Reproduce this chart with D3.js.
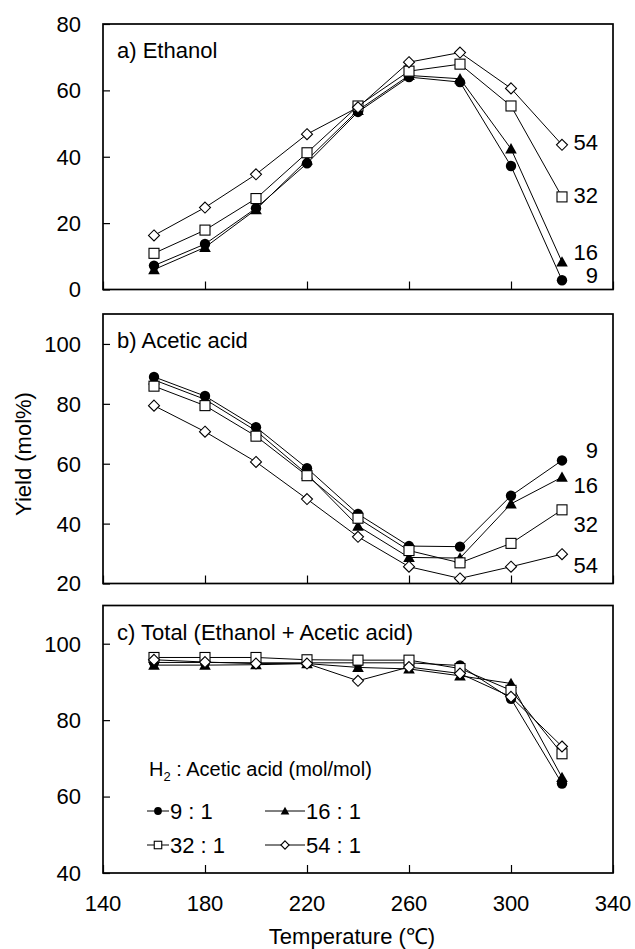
<!DOCTYPE html>
<html>
<head>
<meta charset="utf-8">
<script src="https://cdn.jsdelivr.net/npm/d3@7"></script>
<style>
  body { margin: 0; background: #fff; }
  svg { display: block; font-family: "Liberation Sans", Arial, sans-serif; }
</style>
</head>
<body>
<svg width="635" height="949"></svg>
<script>
'use strict';

// temperatures (C)
var temps = [160, 180, 200, 220, 240, 260, 280, 300, 320];

// ratio labels (H2 : acetic acid)
var ratios = ['9', '16', '32', '54'];
var shapes = ['circle', 'triangle', 'square', 'diamond'];

// a) ethanol yield (mol%)
var eth9  = [7.2, 13.7, 24.5, 38.0, 53.5, 64.0, 62.5, 37.2, 2.8];
var eth16 = [6.0, 12.7, 24.1, 39.0, 54.0, 64.5, 63.5, 42.4, 8.3];
var eth32 = [10.9, 17.9, 27.4, 41.2, 55.3, 65.8, 67.9, 55.3, 27.9];
var eth54 = [16.3, 24.7, 34.7, 46.8, 54.9, 68.5, 71.4, 60.6, 43.6];

// b) acetic acid yield (mol%)
var ace9  = [89.0, 82.6, 72.2, 58.5, 43.2, 32.5, 32.3, 49.3, 61.1];
var ace16 = [88.0, 81.5, 71.0, 56.5, 39.2, 28.7, 28.5, 46.6, 55.5];
var ace32 = [85.9, 79.4, 69.2, 56.0, 41.8, 31.0, 26.9, 33.4, 44.6];
var ace54 = [79.4, 70.7, 60.6, 48.2, 35.6, 25.6, 21.7, 25.6, 29.8];

// c) total (mol%)
var tot9  = [95.1, 95.1, 95.0, 95.0, 95.0, 95.0, 94.3, 85.6, 63.4];
var tot16 = [94.4, 94.4, 94.5, 94.8, 93.8, 93.4, 91.6, 89.6, 65.0];
var tot32 = [96.4, 96.4, 96.4, 95.8, 95.7, 95.7, 93.5, 87.8, 71.2];
var tot54 = [95.8, 95.2, 94.8, 94.8, 90.3, 93.9, 92.2, 86.1, 73.1];

// tick values
var xTicks = [140, 180, 220, 260, 300, 340];
var yTicksA = [0, 20, 40, 60, 80];
var yTicksB = [20, 40, 60, 80, 100];
var yTicksC = [40, 60, 80, 100];

// end labels, value = where the text baseline sits (data units)
var endLabelsA = [2, 8.8, 26.0, 42.0];    // 9, 16, 32, 54
var endLabelsB = [62.0, 50.3, 37.3, 23.5];

var svg = d3.select('svg');
var left = 103, right = 613;

var x = d3.scaleLinear().domain([140, 340]).range([left, right]);

var panels = [
  {title: 'a) Ethanol', top: 24, bottom: 289.5, dom: [0, 80], ticks: yTicksA,
   series: [eth9, eth16, eth32, eth54], labels: endLabelsA},
  {title: 'b) Acetic acid', top: 314, bottom: 583.5, dom: [20, 110], ticks: yTicksB,
   series: [ace9, ace16, ace32, ace54], labels: endLabelsB},
  {title: 'c) Total (Ethanol + Acetic acid)', top: 605.5, bottom: 873, dom: [40, 110], ticks: yTicksC,
   series: [tot9, tot16, tot32, tot54], labels: null}
];

function marker(g, shape, cx, cy, s) {
  //s = scale of marker
  if (shape === 'circle') {
    g.append('circle').attr('cx', cx).attr('cy', cy).attr('r', 5.2 * s).attr('fill', '#000');
  } else if (shape === 'triangle') {
    var h = 5.8 * s;
    g.append('path')
      .attr('d', 'M' + cx + ',' + (cy - h) + 'L' + (cx + h) + ',' + (cy + h * 0.8) + 'L' + (cx - h) + ',' + (cy + h * 0.8) + 'Z')
      .attr('fill', '#000');
  } else if (shape === 'square') {
    var a = 5 * s;
    g.append('rect').attr('x', cx - a).attr('y', cy - a).attr('width', 2 * a).attr('height', 2 * a)
      .attr('fill', '#fff').attr('stroke', '#000').attr('stroke-width', 1.1);
  } else {
    var d = 5.5 * s;
    g.append('path')
      .attr('d', 'M' + cx + ',' + (cy - d) + 'L' + (cx + d) + ',' + cy + 'L' + cx + ',' + (cy + d) + 'L' + (cx - d) + ',' + cy + 'Z')
      .attr('fill', '#fff').attr('stroke', '#000').attr('stroke-width', 1.1);
  }
}

panels.forEach(function(p, pi) {
  var y = d3.scaleLinear().domain(p.dom).range([p.bottom, p.top]);
  var g = svg.append('g');

  // y axis: inward ticks
  var yAxis = d3.axisRight(y).tickValues(p.ticks).tickSize(7).tickFormat('');
  g.append('g').attr('transform', 'translate(' + left + ',0)').call(yAxis)
    .call(function(s) { s.select('.domain').remove(); s.selectAll('line').attr('stroke-width', 1.2); });

  g.selectAll('.ylab').data(p.ticks).enter().append('text')
    .attr('x', 81).attr('y', function(d) { return y(d); }).attr('dy', '0.36em')
    .attr('text-anchor', 'end').attr('font-size', 22).text(function(d) { return d; });

  // x axis: inward ticks
  var xAxis = d3.axisTop(x).tickValues(xTicks).tickSize(8).tickFormat('');
  g.append('g').attr('transform', 'translate(0,' + p.bottom + ')').call(xAxis)
    .call(function(s) { s.select('.domain').remove(); s.selectAll('line').attr('stroke-width', 1.2); });

  if (pi === 2) {
    g.selectAll('.xlab').data(xTicks).enter().append('text')
      .attr('x', function(d) { return x(d); }).attr('y', 911)
      .attr('text-anchor', 'middle').attr('font-size', 22).text(function(d) { return d; });
  }

  // frame
  g.append('rect').attr('x', left).attr('y', p.top).attr('width', right - left).attr('height', p.bottom - p.top)
    .attr('fill', 'none').attr('stroke', '#000').attr('stroke-width', 1.7);

  g.append('text').attr('x', 117).attr('y', p.top + 34).attr('font-size', 22).text(p.title);

  var line = d3.line().x(function(d, i) { return x(temps[i]); }).y(function(d) { return y(d); });

  p.series.forEach(function(vals, si) {
    g.append('path').datum(vals).attr('d', line)
      .attr('fill', 'none').attr('stroke', '#000').attr('stroke-width', 1);
    var mg = g.append('g');
    vals.forEach(function(v, i) { marker(mg, shapes[si], x(temps[i]), y(v), 1); });
  });

  if (p.labels) {
    g.selectAll('.elab').data(p.labels).enter().append('text')
      .attr('x', 598).attr('y', function(d) { return y(d); })
      .attr('text-anchor', 'end').attr('font-size', 22)
      .text(function(d, i) { return ratios[i]; });
  }
});

// legend in panel c
var leg = svg.append('g');
var head = leg.append('text').attr('x', 149).attr('y', 776).attr('font-size', 20);
head.append('tspan').text('H');
head.append('tspan').attr('font-size', 13).attr('dy', 5).text('2');
head.append('tspan').attr('dy', -5).text(' : Acetic acid (mol/mol)');

var legPos = [[147, 811], [265, 811], [147, 845], [265, 845]];
ratios.forEach(function(r, i) {
  var lx = legPos[i][0], ly = legPos[i][1];
  var len = i % 2 === 0 ? 22 : 40;
  leg.append('line').attr('x1', lx).attr('x2', lx + len).attr('y1', ly).attr('y2', ly)
    .attr('stroke', '#000').attr('stroke-width', 1);
  marker(leg, shapes[i], lx + len / 2, ly, 0.75);
  leg.append('text').attr('x', lx + len + 1).attr('y', ly + 8).attr('font-size', 22).text(r + ' : 1');
});

// axis titles
svg.append('text').attr('x', 352).attr('y', 944).attr('text-anchor', 'middle').attr('font-size', 22)
  .text('Temperature (\u2103)');
svg.append('text').attr('transform', 'translate(31,454) rotate(-90)').attr('text-anchor', 'middle')
  .attr('font-size', 22).text('Yield (mol%)');
</script>
</body>
</html>
